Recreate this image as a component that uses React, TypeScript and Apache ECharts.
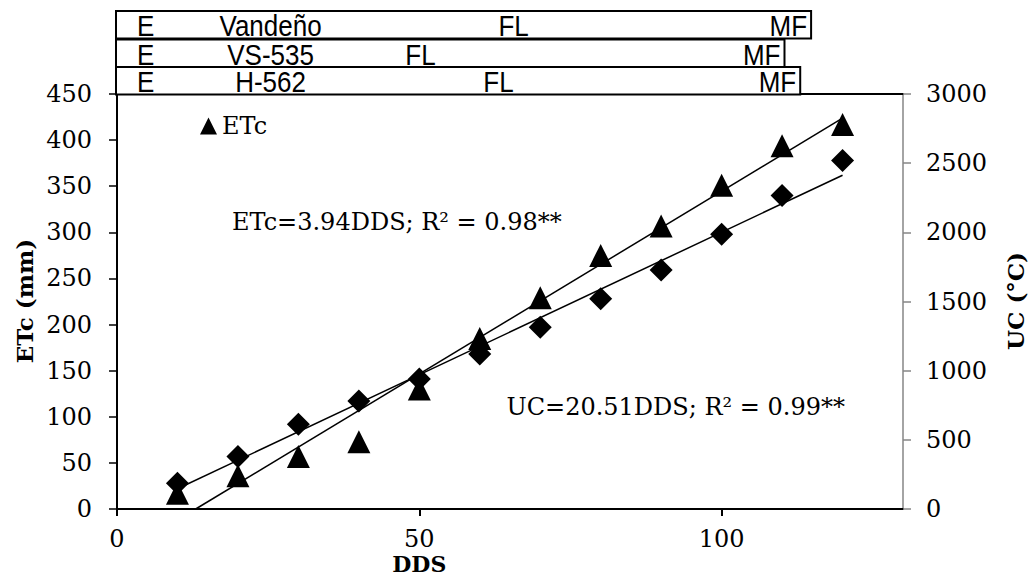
import React, { useEffect, useRef } from "react";
import * as echarts from "echarts";

// Degree-days after sowing (DDS) sampling points
const dds = [10, 20, 30, 40, 50, 60, 70, 80, 90, 100, 110, 120];
// Crop evapotranspiration, mm (left axis)
const etc = [17, 36, 57, 73, 130, 185, 229, 275, 307, 351, 394, 417];
// Heat units, °C (right axis)
const uc = [187, 380, 613, 780, 940, 1120, 1313, 1520, 1727, 1987, 2267, 2520];

// Phenology bars above the plot: flowering (FL) and maturity (MF) in DDS
const varieties = ["Vandeño", "VS-535", "H-562"];
const floweringDds = [65.6, 50.2, 63.1];
const maturityDds = [114.8, 110.4, 113.0];

const etcTicks = [0, 50, 100, 150, 200, 250, 300, 350, 400, 450];
const ucTicks = [0, 500, 1000, 1500, 2000, 2500, 3000];
const ddsTicks = [0, 50, 100];

const SERIF = "DejaVu Serif";
const SANS = "Liberation Sans";

function leastSquares(xs: number[], ys: number[]) {
  const n = xs.length;
  const mx = xs.reduce((a, b) => a + b, 0) / n;
  const my = ys.reduce((a, b) => a + b, 0) / n;
  let sxy = 0;
  let sxx = 0;
  for (let i = 0; i < n; i++) {
    sxy += (xs[i] - mx) * (ys[i] - my);
    sxx += (xs[i] - mx) * (xs[i] - mx);
  }
  const m = sxy / sxx;
  return { m, b: my - m * mx };
}

function trendPoints(xs: number[], ys: number[]) {
  const { m, b } = leastSquares(xs, ys);
  const xEnd = xs[xs.length - 1];
  // the fitted line is cut where it meets the zero baseline
  const xStart = Math.max(xs[0], -b / m);
  return [
    [xStart, m * xStart + b],
    [xEnd, m * xEnd + b],
  ];
}

export default function App() {
  const ref = useRef<HTMLDivElement>(null);

  useEffect(() => {
    if (!ref.current) return;
    const chart = echarts.init(ref.current, undefined, { renderer: "svg" });

    const axisText = {
      fontFamily: SERIF,
      fontSize: 24,
      color: "#000",
      formatter: (v: number) => String(v),
    };

    const option: any = {
      animation: false,
      backgroundColor: "#fff",
      grid: { left: 117, right: 128, top: 94, bottom: 70 },
      legend: {
        data: [{ name: "ETc", icon: "triangle", itemStyle: { color: "#000", opacity: 1 } }],
        left: 195,
        top: 109,
        itemWidth: 17,
        itemHeight: 17,
        itemGap: 4,
        textStyle: { fontFamily: SERIF, fontSize: 24, color: "#000" },
      },
      xAxis: [
        {
          type: "value",
          min: 0,
          max: 130,
          interval: 50,
          splitLine: { show: false },
          axisLine: { show: true, onZero: false, lineStyle: { color: "#000", width: 2 } },
          axisTick: { show: true, length: 7, customValues: ddsTicks, lineStyle: { color: "#000", width: 2 } },
          axisLabel: { ...axisText, margin: 18, customValues: ddsTicks },
        },
        {
          type: "value",
          position: "top",
          min: 0,
          max: 130,
          splitLine: { show: false },
          axisLine: { show: true, onZero: false, lineStyle: { color: "#000", width: 2 } },
          axisTick: { show: false },
          axisLabel: { show: false },
        },
      ],
      yAxis: [
        {
          type: "value",
          min: etcTicks[0],
          max: etcTicks[etcTicks.length - 1],
          interval: 50,
          splitLine: { show: false },
          axisLine: { show: true, onZero: false, lineStyle: { color: "#000", width: 2 } },
          axisTick: { show: true, length: 8, lineStyle: { color: "#000", width: 1.5 } },
          axisLabel: { ...axisText, margin: 25 },
        },
        {
          type: "value",
          position: "right",
          min: ucTicks[0],
          max: ucTicks[ucTicks.length - 1],
          interval: 500,
          splitLine: { show: false },
          axisLine: { show: true, onZero: false, lineStyle: { color: "#868686", width: 1.5 } },
          axisTick: { show: true, length: 8, lineStyle: { color: "#868686", width: 1.5 } },
          axisLabel: { ...axisText, margin: 23 },
        },
      ],
      series: [
        {
          name: "ETc trend",
          type: "line",
          yAxisIndex: 0,
          data: trendPoints(dds, etc),
          showSymbol: false,
          symbol: "none",
          lineStyle: { color: "#000", width: 1.5 },
          z: 3,
        },
        {
          name: "UC trend",
          type: "line",
          yAxisIndex: 1,
          data: trendPoints(dds, uc),
          showSymbol: false,
          symbol: "none",
          lineStyle: { color: "#000", width: 1.5 },
          z: 3,
        },
        {
          name: "ETc",
          type: "scatter",
          yAxisIndex: 0,
          symbol: "triangle",
          symbolSize: 23,
          itemStyle: { color: "#000", opacity: 1 },
          data: dds.map((d, i) => [d, etc[i]]),
          z: 4,
        },
        {
          name: "UC",
          type: "scatter",
          yAxisIndex: 1,
          symbol: "diamond",
          symbolSize: 23,
          itemStyle: { color: "#000", opacity: 1 },
          data: dds.map((d, i) => [d, uc[i]]),
          z: 4,
        },
      ],
    };

    chart.setOption(option);

    // phenology bars: one framed row per variety, E at sowing, FL and MF placed on the DDS scale
    const px = (v: number) => chart.convertToPixel({ xAxisIndex: 0 }, v) as number;
    const x0 = px(0) - 1;
    const rowTops = [11, 39.5, 67];
    const rowH = 27.5;
    const bars: any[] = [];
    varieties.forEach((name, i) => {
      const xr = px(maturityDds[i]);
      const cy = rowTops[i] + rowH / 2 + 0.5;
      const txt = (text: string, x: number, align: string) => ({
        type: "text",
        x,
        y: cy,
        scaleY: 1.17,
        z: 11,
        style: {
          text,
          font: `26px "${SANS}"`,
          fill: "#000",
          textAlign: align,
          textVerticalAlign: "middle",
        },
      });
      bars.push({
        type: "rect",
        shape: { x: x0, y: rowTops[i], width: xr - x0, height: rowH },
        style: { fill: "#fff", stroke: "#000", lineWidth: 2 },
        z: 10,
      });
      bars.push(txt("E", x0 + 21, "left"));
      bars.push(txt(name, px(25.4), "center"));
      bars.push(txt("FL", px(floweringDds[i]), "center"));
      bars.push(txt("MF", xr - 4, "right"));
    });

    const title = (text: string, x: number, y: number, rotation: number, size: number) => ({
      type: "text",
      x,
      y,
      rotation,
      z: 11,
      style: {
        text,
        font: `bold ${size}px "${SERIF}"`,
        fill: "#000",
        textAlign: "center",
        textVerticalAlign: "middle",
      },
    });

    chart.setOption({
      graphic: [
        ...bars,
        title("ETc (mm)", 24, 301, Math.PI / 2, 23),
        title("UC (°C)", 1015, 301, Math.PI / 2, 23),
        title("DDS", px(50), 564, 0, 22),
        {
          type: "text",
          x: 232,
          y: 222,
          z: 11,
          style: {
            text: "ETc=3.94DDS; R² = 0.98**",
            font: `24px "${SERIF}"`,
            fill: "#000",
            textAlign: "left",
            textVerticalAlign: "middle",
          },
        },
        {
          type: "text",
          x: 845,
          y: 407,
          z: 11,
          style: {
            text: "UC=20.51DDS; R² = 0.99**",
            font: `24px "${SERIF}"`,
            fill: "#000",
            textAlign: "right",
            textVerticalAlign: "middle",
          },
        },
      ],
    });

    return () => chart.dispose();
  }, []);

  return (
    <div
      ref={ref}
      style={{ position: "absolute", left: 0, top: 0, width: 1031, height: 579, background: "#fff" }}
    />
  );
}
